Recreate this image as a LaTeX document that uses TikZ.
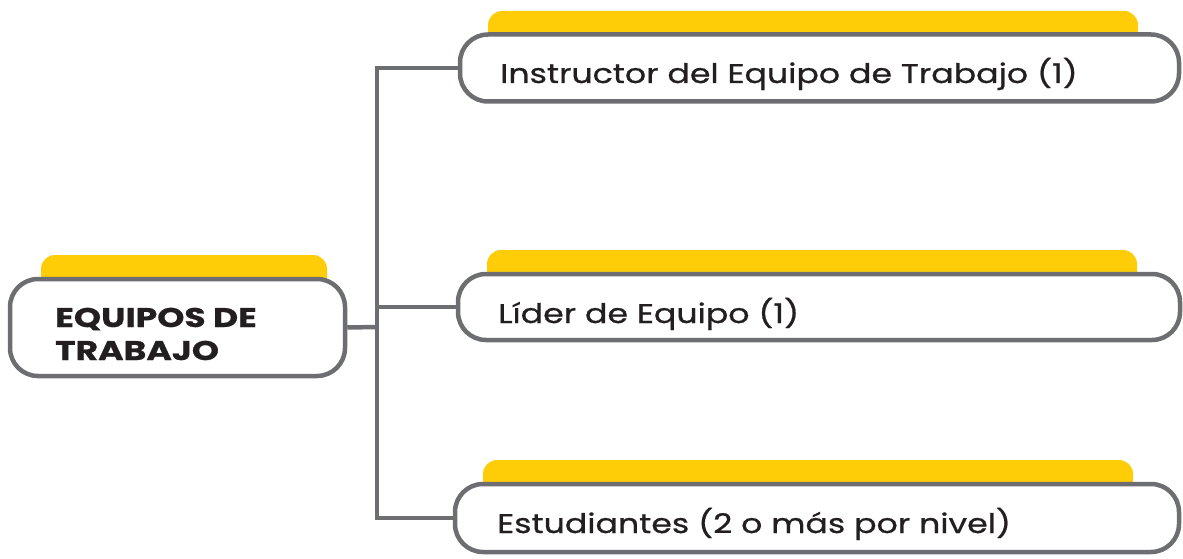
\documentclass[tikz,border=0pt]{standalone}
\usepackage{fontspec}
\setmainfont{Poppins}
\newfontfamily\lblfont[FakeStretch=1.23,FakeBold=0.8]{Poppins}
\newfontfamily\ttlfont[FakeStretch=1.28,UprightFont=*-Bold,FakeBold=0.7]{Poppins}
\definecolor{tabyellow}{HTML}{FECD08}
\definecolor{linegray}{HTML}{6D6E71}
\definecolor{txtdark}{HTML}{231F20}
\begin{document}
\begin{tikzpicture}[x=1pt,y=-1pt,
  box/.style={draw=linegray,line width=4.5pt,fill=white,rounded corners=28pt,inner sep=0pt},
  tab/.style={fill=tabyellow,rounded corners=14pt,inner sep=0pt},
  conn/.style={draw=linegray,line width=4.5pt},
  lbl/.style={anchor=base west,inner sep=0pt,text=txtdark,font=\lblfont\fontsize{27}{32}\selectfont},
  title/.style={anchor=base west,inner sep=0pt,text=txtdark,font=\ttlfont\fontsize{27}{33}\selectfont,align=left}]
\useasboundingbox (0,0) rectangle (1183,559);
% tabs
\node[tab,minimum width=286pt,minimum height=50pt] (tab0) at (184,280) {};
\node[tab,minimum width=650pt,minimum height=50pt] (tab1) at (813,36) {};
\node[tab,minimum width=650pt,minimum height=50pt] (tab2) at (812,275) {};
\node[tab,minimum width=650pt,minimum height=50pt] (tab3) at (808,485) {};
% connectors
\coordinate (hub) at (377,327);
\coordinate (top) at (377,68);
\coordinate (mid) at (377,307);
\coordinate (bot) at (377,518);
% boxes
\node[box,minimum width=335pt,minimum height=97pt] (root) at (177.5,327.5) {};
\node[box,minimum width=719pt,minimum height=67pt] (b1) at (819.5,68) {};
\node[box,minimum width=722pt,minimum height=66pt] (b2) at (819,307) {};
\node[box,minimum width=724pt,minimum height=68pt] (b3) at (817,518) {};
\draw[conn] (root.east) -- (hub);
\draw[conn,line cap=rect] (top) -- (bot);
\draw[conn] (top) -- (b1.west);
\draw[conn] (mid) -- (b2.west);
\draw[conn] (bot) -- (b3.west);
% labels
\node[title] (t0) at (55,360) {EQUIPOS DE\\TRABAJO};
\node[lbl] (t1) at (500,83) {Instructor del Equipo de Trabajo (1)};
\node[lbl] (t2) at (498,323) {Líder de Equipo (1)};
\node[lbl] (t3) at (497,533) {Estudiantes (2 o más por nivel)};
\end{tikzpicture}
\end{document}
